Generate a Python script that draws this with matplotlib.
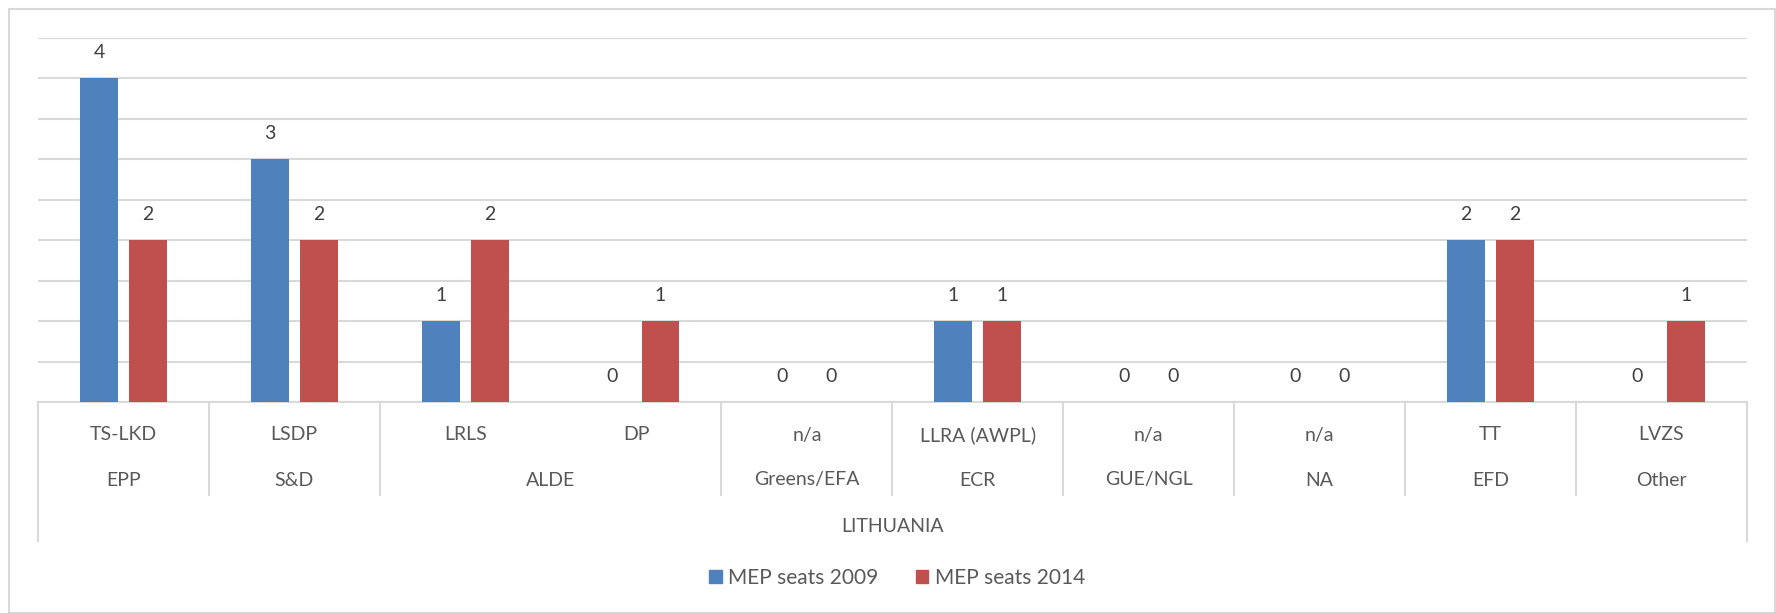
import numpy as np
import matplotlib.pyplot as plt
import matplotlib.transforms as mtransforms
from matplotlib.patches import Patch, Rectangle

plt.rcParams['font.family'] = ['Lato', 'DejaVu Sans']

# data
parties = ['TS-LKD', 'LSDP', 'LRLS', 'DP', 'n/a', 'LLRA (AWPL)', 'n/a', 'n/a', 'TT', 'LVZS']
groups = ['EPP', 'S&D', 'ALDE', 'Greens/EFA', 'ECR', 'GUE/NGL', 'NA', 'EFD', 'Other']
group_span = [1, 1, 2, 1, 1, 1, 1, 1, 1]
country = 'LITHUANIA'
seats_2009 = [4, 3, 1, 0, 0, 1, 0, 0, 2, 0]
seats_2014 = [2, 2, 2, 1, 0, 1, 0, 0, 2, 1]

blue = '#4F81BD'
red = '#C0504D'
grid_c = '#D9D9D9'
txt_c = '#595959'
lab_c = '#404040'

W, H = 1776, 613
fig = plt.figure(figsize=(W / 100, H / 100), dpi=100)
fig.patches.append(Rectangle((8.5 / W, 0), (1775 - 8.5) / W, 1 - 8.5 / H,
                             transform=fig.transFigure, fill=False,
                             edgecolor=grid_c, lw=1.5))

left, right, top, bottom = 38, 1746.7, 37.5, 402
ax = fig.add_axes([left / W, 1 - bottom / H, (right - left) / W, (bottom - top) / H])

x = np.arange(len(parties))
off = 0.143
bw = 0.222
b1 = ax.bar(x - off, seats_2009, bw, color=blue, label='MEP seats 2009', zorder=3)
b2 = ax.bar(x + off, seats_2014, bw, color=red, label='MEP seats 2014', zorder=3)

for bars, vals in ((b1, seats_2009), (b2, seats_2014)):
    for r, v in zip(bars, vals):
        ax.annotate(str(v), (r.get_x() + r.get_width() / 2, v), xytext=(0, 18.5),
                    textcoords='offset points', ha='center', va='center',
                    fontsize=14, color=lab_c)

ax.set_xlim(-0.5, len(parties) - 0.5)
ax.set_ylim(0, 4.5)
ax.set_yticks(np.arange(0, 4.51, 0.5))
ax.yaxis.grid(True, color=grid_c, lw=1.5, zorder=0)
ax.tick_params(left=False, labelleft=False, bottom=False, labelbottom=False)
for s in ['left', 'right', 'top']:
    ax.spines[s].set_visible(False)
ax.spines['bottom'].set_color(grid_c)
ax.spines['bottom'].set_linewidth(1.5)

# category table below the axis
tr = mtransforms.blended_transform_factory(ax.transData, ax.transAxes)
ah = bottom - top
row1 = -(435 - bottom) / ah
row2 = -(480 - bottom) / ah
inner_end = -(495 - bottom) / ah
outer_end = -(541 - bottom) / ah
row3 = -(527 - bottom) / ah

for i, p in enumerate(parties):
    ax.text(i, row1, p, transform=tr, ha='center', va='center', fontsize=14, color=txt_c)

pos = 0
bounds = [-0.5]
for g, n in zip(groups, group_span):
    ax.text(pos + (n - 1) / 2, row2, g, transform=tr, ha='center', va='center',
            fontsize=14, color=txt_c)
    pos += n
    bounds.append(pos - 0.5)

for b in bounds:
    end = outer_end if b in (bounds[0], bounds[-1]) else inner_end
    ax.plot([b, b], [0, end], transform=tr, color=grid_c, lw=1.5, clip_on=False)

ax.text((len(parties) - 1) / 2, row3, country, transform=tr, ha='center', va='center',
        fontsize=14, color=txt_c)

fig.legend(handles=[Patch(color=blue, label='MEP seats 2009'),
                    Patch(color=red, label='MEP seats 2014')],
           loc='center', bbox_to_anchor=(897 / W, 1 - 578 / H), ncol=2,
           frameon=False, fontsize=15, labelcolor=txt_c, handlelength=0.6,
           handleheight=0.6, handletextpad=0.3, columnspacing=1.8)

fig.savefig('out.png', dpi=100)
